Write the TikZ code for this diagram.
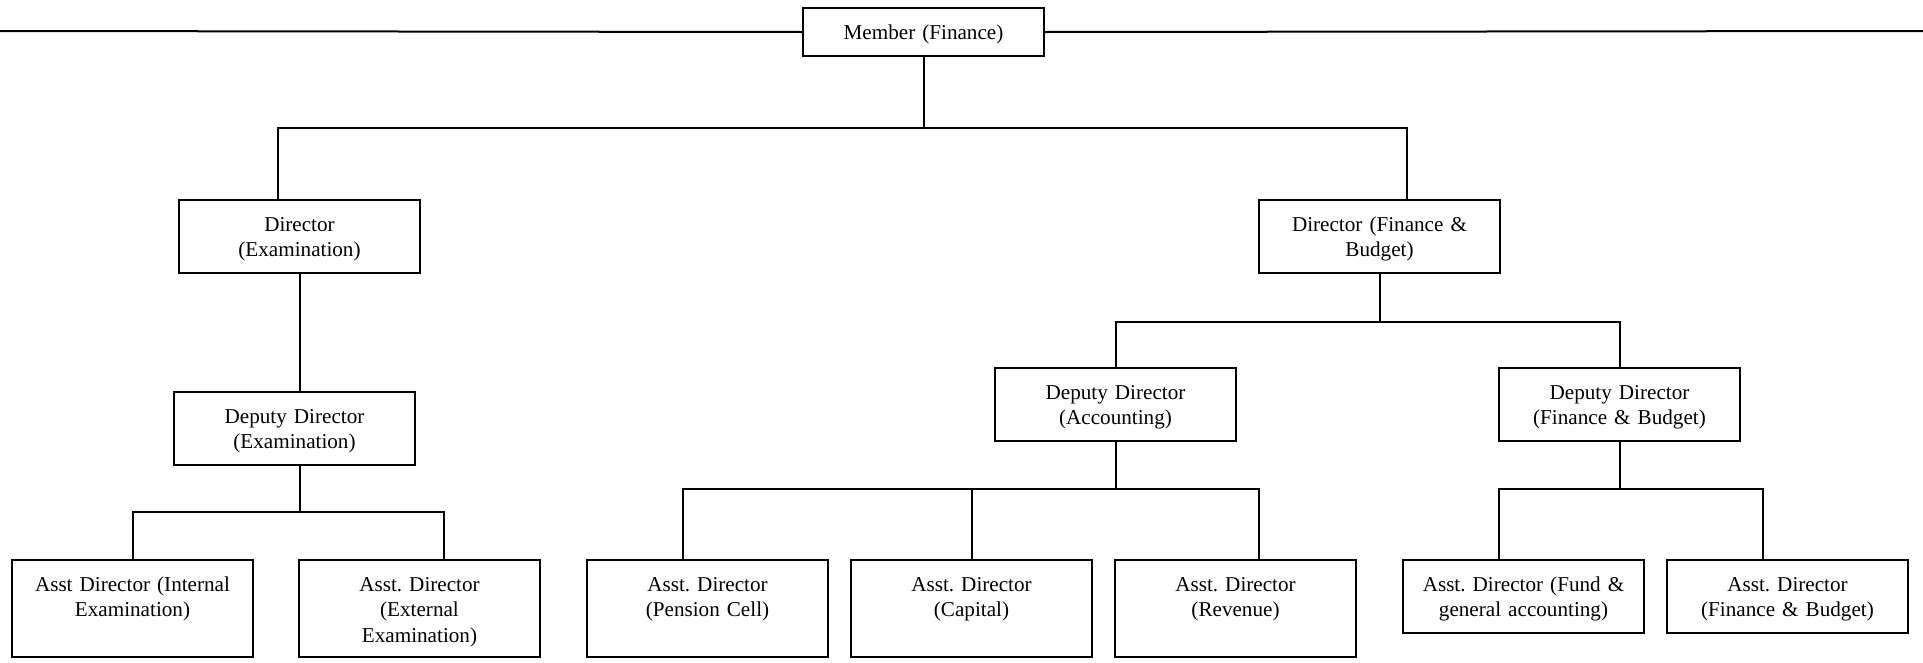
\documentclass[tikz,border=0pt]{standalone}
\usepackage{fontspec}
\setmainfont{Liberation Serif}
\frenchspacing

\begin{document}
\begin{tikzpicture}[x=1pt,y=-1pt,
    post/.style={draw,line width=2pt,anchor=north,inner sep=0pt,
        text width=241pt,align=center,
        font=\fontsize{21.15}{25.7}\selectfont,
        text height=31pt,text depth=#1},
    post/.default=42pt,
    link/.style={draw,line width=2pt}
]
    \useasboundingbox (0,0) rectangle (1923,662);

    \node[post=17pt] (member) at (923.5,7) {Member (Finance)};
    \node[post] (direx) at (299.5,199) {Director\\(Examination)};
    \node[post] (depex) at (294.5,391) {Deputy Director\\(Examination)};
    \node[post=66pt] (adint) at (132.5,559) {Asst Director (Internal\\Examination)};
    \node[post=66pt] (adext) at (419.5,559) {Asst. Director\\(External\\Examination)};
    \node[post] (dirfb) at (1379.5,199) {Director (Finance \&\\Budget)};
    \node[post] (depacc) at (1115.5,367) {Deputy Director\\(Accounting)};
    \node[post] (depfb) at (1619.5,367) {Deputy Director\\(Finance \& Budget)};
    \node[post=66pt] (pension) at (707.5,559) {Asst. Director\\(Pension Cell)};
    \node[post=66pt] (capital) at (971.5,559) {Asst. Director\\(Capital)};
    \node[post=66pt] (revenue) at (1235.5,559) {Asst. Director\\(Revenue)};
    \node[post] (fund) at (1523.5,559) {Asst. Director (Fund \&\\general accounting)};
    \node[post] (finbud) at (1787.5,559) {Asst. Director\\(Finance \& Budget)};

    \coordinate (lend) at (0,31);
    \coordinate (rend) at (1923,31);
    \draw[link] (lend) -- (member.west);
    \draw[link] (member.east) -- (rend);

    \draw[link] (member.south) -- ++(0,71) coordinate (bus1);
    \draw[link] ([xshift=-22pt]direx.north) |- (bus1) -| ([xshift=27.5pt]dirfb.north);

    \draw[link] (direx.south) -- (direx.south |- depex.north);
    \draw[link] ([xshift=5pt]depex.south) -- ++(0,46) coordinate (bus2);
    \draw[link] (adint.north) |- (bus2) -| ([xshift=24pt]adext.north);

    \draw[link] (dirfb.south) -- ++(0,48) coordinate (bus3);
    \draw[link] (depacc.north) |- (bus3) -| (depfb.north);

    \draw[link] (depacc.south) -- ++(0,47) coordinate (bus4);
    \draw[link] ([xshift=-24.5pt]pension.north) |- (bus4) -| ([xshift=23.5pt]revenue.north);
    \draw[link] (capital.north) -- (capital.north |- bus4);

    \draw[link] (depfb.south) -- ++(0,47) coordinate (bus5);
    \draw[link] ([xshift=-24.5pt]fund.north) |- (bus5) -| ([xshift=-24.5pt]finbud.north);
\end{tikzpicture}
\end{document}
